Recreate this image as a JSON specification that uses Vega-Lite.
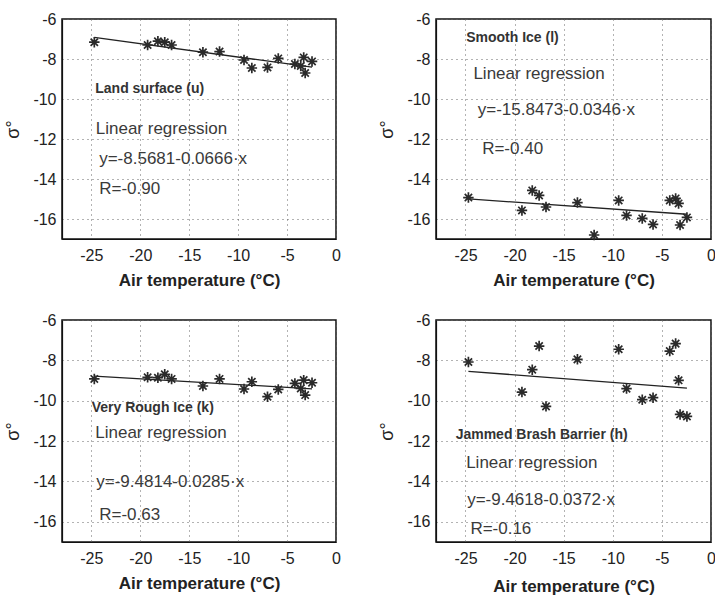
{
  "$schema": "https://vega.github.io/schema/vega-lite/v6.json",
  "padding": {"left": 4, "top": 10, "right": 0, "bottom": 0},
  "background": "white",
  "data": {"values": [
    {"panel":"u","kind":"pt","t":-24.7,"s":-7.16},
    {"panel":"u","kind":"pt","t":-19.25,"s":-7.30},
    {"panel":"u","kind":"pt","t":-18.2,"s":-7.11},
    {"panel":"u","kind":"pt","t":-17.5,"s":-7.16},
    {"panel":"u","kind":"pt","t":-16.8,"s":-7.30},
    {"panel":"u","kind":"pt","t":-13.6,"s":-7.66},
    {"panel":"u","kind":"pt","t":-11.9,"s":-7.63},
    {"panel":"u","kind":"pt","t":-9.4,"s":-8.05},
    {"panel":"u","kind":"pt","t":-8.6,"s":-8.45},
    {"panel":"u","kind":"pt","t":-7.0,"s":-8.42},
    {"panel":"u","kind":"pt","t":-5.9,"s":-7.97},
    {"panel":"u","kind":"pt","t":-4.2,"s":-8.25},
    {"panel":"u","kind":"pt","t":-3.6,"s":-8.35},
    {"panel":"u","kind":"pt","t":-3.3,"s":-7.92},
    {"panel":"u","kind":"pt","t":-3.15,"s":-8.70},
    {"panel":"u","kind":"pt","t":-2.45,"s":-8.12},
    {"panel":"u","kind":"fit","t":-24.7,"s":-6.923},
    {"panel":"u","kind":"fit","t":-2.45,"s":-8.405},
    {"panel":"u","kind":"title","t":-24.6,"s":-9.48,"label":"Land surface (u)"},
    {"panel":"u","kind":"note","t":-24.55,"s":-11.48,"label":"Linear regression"},
    {"panel":"u","kind":"note","t":-24.2,"s":-12.99,"label":"y=-8.5681-0.0666·x"},
    {"panel":"u","kind":"note","t":-24.2,"s":-14.5,"label":"R=-0.90"},

    {"panel":"l","kind":"pt","t":-24.7,"s":-14.93},
    {"panel":"l","kind":"pt","t":-19.25,"s":-15.57},
    {"panel":"l","kind":"pt","t":-18.2,"s":-14.57},
    {"panel":"l","kind":"pt","t":-17.5,"s":-14.82},
    {"panel":"l","kind":"pt","t":-16.8,"s":-15.40},
    {"panel":"l","kind":"pt","t":-13.6,"s":-15.18},
    {"panel":"l","kind":"pt","t":-11.9,"s":-16.8},
    {"panel":"l","kind":"pt","t":-9.4,"s":-15.07},
    {"panel":"l","kind":"pt","t":-8.6,"s":-15.82},
    {"panel":"l","kind":"pt","t":-7.0,"s":-15.97},
    {"panel":"l","kind":"pt","t":-5.9,"s":-16.27},
    {"panel":"l","kind":"pt","t":-4.2,"s":-15.07},
    {"panel":"l","kind":"pt","t":-3.6,"s":-14.97},
    {"panel":"l","kind":"pt","t":-3.3,"s":-15.22},
    {"panel":"l","kind":"pt","t":-3.15,"s":-16.3},
    {"panel":"l","kind":"pt","t":-2.45,"s":-15.92},
    {"panel":"l","kind":"fit","t":-24.7,"s":-14.993},
    {"panel":"l","kind":"fit","t":-2.45,"s":-15.763},
    {"panel":"l","kind":"title","t":-24.93,"s":-6.97,"label":"Smooth Ice (l)"},
    {"panel":"l","kind":"note","t":-24.19,"s":-8.76,"label":"Linear regression"},
    {"panel":"l","kind":"note","t":-23.75,"s":-10.57,"label":"y=-15.8473-0.0346·x"},
    {"panel":"l","kind":"note","t":-23.3,"s":-12.49,"label":"R=-0.40"},

    {"panel":"k","kind":"pt","t":-24.7,"s":-8.92},
    {"panel":"k","kind":"pt","t":-19.25,"s":-8.84},
    {"panel":"k","kind":"pt","t":-18.2,"s":-8.86},
    {"panel":"k","kind":"pt","t":-17.5,"s":-8.69},
    {"panel":"k","kind":"pt","t":-16.8,"s":-8.92},
    {"panel":"k","kind":"pt","t":-13.6,"s":-9.27},
    {"panel":"k","kind":"pt","t":-11.9,"s":-8.92},
    {"panel":"k","kind":"pt","t":-9.4,"s":-9.42},
    {"panel":"k","kind":"pt","t":-8.6,"s":-9.06},
    {"panel":"k","kind":"pt","t":-7.0,"s":-9.80},
    {"panel":"k","kind":"pt","t":-5.9,"s":-9.44},
    {"panel":"k","kind":"pt","t":-4.2,"s":-9.14},
    {"panel":"k","kind":"pt","t":-3.6,"s":-9.39},
    {"panel":"k","kind":"pt","t":-3.3,"s":-8.98},
    {"panel":"k","kind":"pt","t":-3.15,"s":-9.72},
    {"panel":"k","kind":"pt","t":-2.45,"s":-9.11},
    {"panel":"k","kind":"fit","t":-24.7,"s":-8.777},
    {"panel":"k","kind":"fit","t":-2.45,"s":-9.412},
    {"panel":"k","kind":"title","t":-24.97,"s":-10.38,"label":"Very Rough Ice (k)"},
    {"panel":"k","kind":"note","t":-24.6,"s":-11.62,"label":"Linear regression"},
    {"panel":"k","kind":"note","t":-24.5,"s":-14.02,"label":"y=-9.4814-0.0285·x"},
    {"panel":"k","kind":"note","t":-24.2,"s":-15.67,"label":"R=-0.63"},

    {"panel":"h","kind":"pt","t":-24.7,"s":-8.08},
    {"panel":"h","kind":"pt","t":-19.25,"s":-9.57},
    {"panel":"h","kind":"pt","t":-18.2,"s":-8.46},
    {"panel":"h","kind":"pt","t":-17.5,"s":-7.29},
    {"panel":"h","kind":"pt","t":-16.8,"s":-10.28},
    {"panel":"h","kind":"pt","t":-13.6,"s":-7.95},
    {"panel":"h","kind":"pt","t":-9.4,"s":-7.45},
    {"panel":"h","kind":"pt","t":-8.6,"s":-9.40},
    {"panel":"h","kind":"pt","t":-7.0,"s":-9.95},
    {"panel":"h","kind":"pt","t":-5.9,"s":-9.85},
    {"panel":"h","kind":"pt","t":-4.2,"s":-7.54},
    {"panel":"h","kind":"pt","t":-3.6,"s":-7.17},
    {"panel":"h","kind":"pt","t":-3.3,"s":-8.99},
    {"panel":"h","kind":"pt","t":-3.15,"s":-10.68},
    {"panel":"h","kind":"pt","t":-2.45,"s":-10.78},
    {"panel":"h","kind":"fit","t":-24.7,"s":-8.543},
    {"panel":"h","kind":"fit","t":-2.45,"s":-9.371},
    {"panel":"h","kind":"title","t":-26.0,"s":-11.69,"label":"Jammed Brash Barrier (h)"},
    {"panel":"h","kind":"note","t":-24.93,"s":-13.1,"label":"Linear regression"},
    {"panel":"h","kind":"note","t":-24.83,"s":-14.92,"label":"y=-9.4618-0.0372·x"},
    {"panel":"h","kind":"note","t":-24.5,"s":-16.38,"label":"R=-0.16"}
  ]},
  "columns": 2,
  "spacing": {"row": 81, "column": 100},
  "bounds": "flush",
  "concat": [
    {
      "width": 274, "height": 220,
      "view": {"stroke": "#111", "strokeWidth": 1.5},
      "transform": [{"filter": "datum.panel == 'u'"}],
      "encoding": {
        "x": {"field": "t", "type": "quantitative", "scale": {"domain": [-28, 0], "nice": false, "zero": false},
              "axis": {"values": [-25, -20, -15, -10, -5, 0], "title": "Air temperature (°C)"}},
        "y": {"field": "s", "type": "quantitative", "scale": {"domain": [-17, -6], "nice": false, "zero": false},
              "axis": {"values": [-16, -14, -12, -10, -8, -6], "title": "σ°"}}
      },
      "layer": [
        {"transform": [{"filter": "datum.kind == 'fit'"}], "mark": {"type": "line", "color": "#222", "strokeWidth": 1.3}},
        {"transform": [{"filter": "datum.kind == 'pt'"}], "mark": {"type": "point", "shape": "M-1,0L1,0M0,-1L0,1M-0.7,-0.7L0.7,0.7M-0.7,0.7L0.7,-0.7", "size": 110, "strokeWidth": 1.7, "color": "#2a2a2a", "filled": false, "opacity": 1}},
        {"transform": [{"filter": "datum.kind == 'title'"}], "mark": {"type": "text", "align": "left", "baseline": "middle", "fontSize": 14, "fontWeight": "bold", "color": "#333"}, "encoding": {"text": {"field": "label"}}},
        {"transform": [{"filter": "datum.kind == 'note'"}], "mark": {"type": "text", "align": "left", "baseline": "middle", "fontSize": 17, "color": "#3a3a3a"}, "encoding": {"text": {"field": "label"}}}
      ]
    },
    {
      "width": 275, "height": 220,
      "view": {"stroke": "#111", "strokeWidth": 1.5},
      "transform": [{"filter": "datum.panel == 'l'"}],
      "encoding": {
        "x": {"field": "t", "type": "quantitative", "scale": {"domain": [-28, 0], "nice": false, "zero": false},
              "axis": {"values": [-25, -20, -15, -10, -5, 0], "title": "Air temperature (°C)"}},
        "y": {"field": "s", "type": "quantitative", "scale": {"domain": [-17, -6], "nice": false, "zero": false},
              "axis": {"values": [-16, -14, -12, -10, -8, -6], "title": "σ°"}}
      },
      "layer": [
        {"transform": [{"filter": "datum.kind == 'fit'"}], "mark": {"type": "line", "color": "#222", "strokeWidth": 1.3}},
        {"transform": [{"filter": "datum.kind == 'pt'"}], "mark": {"type": "point", "shape": "M-1,0L1,0M0,-1L0,1M-0.7,-0.7L0.7,0.7M-0.7,0.7L0.7,-0.7", "size": 110, "strokeWidth": 1.7, "color": "#2a2a2a", "filled": false, "opacity": 1}},
        {"transform": [{"filter": "datum.kind == 'title'"}], "mark": {"type": "text", "align": "left", "baseline": "middle", "fontSize": 14, "fontWeight": "bold", "color": "#333"}, "encoding": {"text": {"field": "label"}}},
        {"transform": [{"filter": "datum.kind == 'note'"}], "mark": {"type": "text", "align": "left", "baseline": "middle", "fontSize": 17, "color": "#3a3a3a"}, "encoding": {"text": {"field": "label"}}}
      ]
    },
    {
      "width": 274, "height": 222,
      "view": {"stroke": "#111", "strokeWidth": 1.5},
      "transform": [{"filter": "datum.panel == 'k'"}],
      "encoding": {
        "x": {"field": "t", "type": "quantitative", "scale": {"domain": [-28, 0], "nice": false, "zero": false},
              "axis": {"values": [-25, -20, -15, -10, -5, 0], "title": "Air temperature (°C)"}},
        "y": {"field": "s", "type": "quantitative", "scale": {"domain": [-17, -6], "nice": false, "zero": false},
              "axis": {"values": [-16, -14, -12, -10, -8, -6], "title": "σ°"}}
      },
      "layer": [
        {"transform": [{"filter": "datum.kind == 'fit'"}], "mark": {"type": "line", "color": "#222", "strokeWidth": 1.3}},
        {"transform": [{"filter": "datum.kind == 'pt'"}], "mark": {"type": "point", "shape": "M-1,0L1,0M0,-1L0,1M-0.7,-0.7L0.7,0.7M-0.7,0.7L0.7,-0.7", "size": 110, "strokeWidth": 1.7, "color": "#2a2a2a", "filled": false, "opacity": 1}},
        {"transform": [{"filter": "datum.kind == 'title'"}], "mark": {"type": "text", "align": "left", "baseline": "middle", "fontSize": 14, "fontWeight": "bold", "color": "#333"}, "encoding": {"text": {"field": "label"}}},
        {"transform": [{"filter": "datum.kind == 'note'"}], "mark": {"type": "text", "align": "left", "baseline": "middle", "fontSize": 17, "color": "#3a3a3a"}, "encoding": {"text": {"field": "label"}}}
      ]
    },
    {
      "width": 275, "height": 222,
      "view": {"stroke": "#111", "strokeWidth": 1.5},
      "transform": [{"filter": "datum.panel == 'h'"}],
      "encoding": {
        "x": {"field": "t", "type": "quantitative", "scale": {"domain": [-28, 0], "nice": false, "zero": false},
              "axis": {"values": [-25, -20, -15, -10, -5, 0], "title": "Air temperature (°C)", "titlePadding": 12}},
        "y": {"field": "s", "type": "quantitative", "scale": {"domain": [-17, -6], "nice": false, "zero": false},
              "axis": {"values": [-16, -14, -12, -10, -8, -6], "title": "σ°"}}
      },
      "layer": [
        {"transform": [{"filter": "datum.kind == 'fit'"}], "mark": {"type": "line", "color": "#222", "strokeWidth": 1.3}},
        {"transform": [{"filter": "datum.kind == 'pt'"}], "mark": {"type": "point", "shape": "M-1,0L1,0M0,-1L0,1M-0.7,-0.7L0.7,0.7M-0.7,0.7L0.7,-0.7", "size": 110, "strokeWidth": 1.7, "color": "#2a2a2a", "filled": false, "opacity": 1}},
        {"transform": [{"filter": "datum.kind == 'title'"}], "mark": {"type": "text", "align": "left", "baseline": "middle", "fontSize": 14, "fontWeight": "bold", "color": "#333"}, "encoding": {"text": {"field": "label"}}},
        {"transform": [{"filter": "datum.kind == 'note'"}], "mark": {"type": "text", "align": "left", "baseline": "middle", "fontSize": 17, "color": "#3a3a3a"}, "encoding": {"text": {"field": "label"}}}
      ]
    }
  ],
  "config": {
    "font": "Liberation Sans",
    "axis": {
      "domain": true, "domainColor": "#111", "domainWidth": 1.2, "ticks": false,
      "grid": true, "gridDash": [1, 4], "gridColor": "#666", "gridWidth": 1,
      "labelFont": "Liberation Sans", "labelFontSize": 16, "labelColor": "#222",
      "labelFlush": false, "labelOverlap": false,
      "labelExpr": "replace(datum.label, '\u2212', '-')",
      "titleFont": "Liberation Sans", "titleColor": "#222"
    },
    "axisX": {"labelPadding": 8, "titleFontSize": 17, "titleFontWeight": "bold", "titlePadding": 9},
    "axisY": {"labelPadding": 6, "titleFontSize": 18, "titleFontWeight": "normal", "titlePadding": 10}
  }
}
